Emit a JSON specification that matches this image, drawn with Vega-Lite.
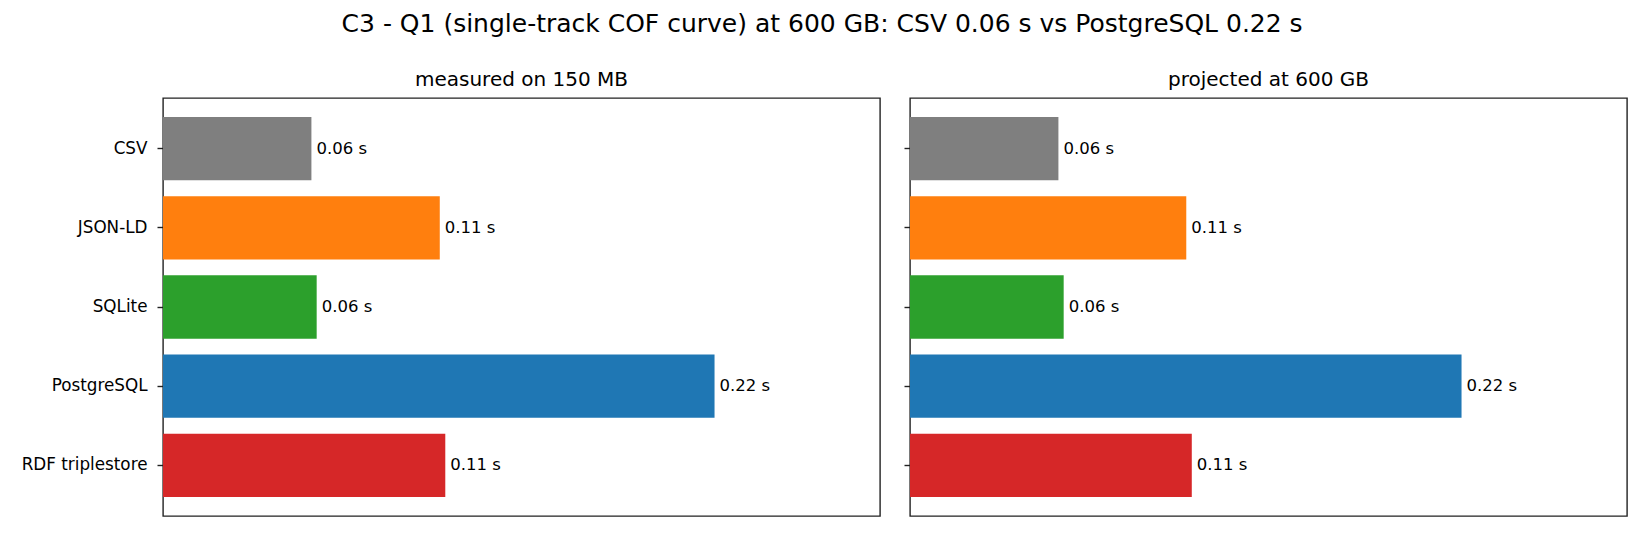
{
  "$schema": "https://vega.github.io/schema/vega-lite/v6.json",
  "padding": {"left": 20, "top": 12, "right": 20, "bottom": 20},
  "background": "white",
  "title": {
    "text": "C3 - Q1 (single-track COF curve) at 600 GB: CSV 0.06 s vs PostgreSQL 0.22 s",
    "fontSize": 25,
    "fontWeight": "normal",
    "anchor": "middle",
    "color": "black",
    "dx": -2,
    "offset": 32
  },
  "config": {
    "font": "DejaVu Sans",
    "view": {"stroke": "#222222", "strokeWidth": 1.4},
    "title": {"fontSize": 20, "fontWeight": "normal", "color": "black", "baseline": "alphabetic", "offset": 8},
    "axis": {"labelFont": "DejaVu Sans"}
  },
  "data": {
    "values": [
      {"format": "CSV", "measured": 0.0592, "projected": 0.0592, "label": "0.06 s"},
      {"format": "JSON-LD", "measured": 0.1104, "projected": 0.1102, "label": "0.11 s"},
      {"format": "SQLite", "measured": 0.0613, "projected": 0.0613, "label": "0.06 s"},
      {"format": "PostgreSQL", "measured": 0.22, "projected": 0.22, "label": "0.22 s"},
      {"format": "RDF triplestore", "measured": 0.1126, "projected": 0.1124, "label": "0.11 s"}
    ]
  },
  "bounds": "flush",
  "spacing": 30,
  "hconcat": [
    {
      "title": "measured on 150 MB",
      "width": 717,
      "height": 418,
      "encoding": {
        "y": {
          "field": "format", "type": "nominal", "sort": null,
          "scale": {"paddingInner": 0.2, "paddingOuter": 0.24},
          "axis": {"title": null, "domain": false, "ticks": true, "tickSize": 6, "tickWidth": 1.4, "tickColor": "#222222", "labelFontSize": 16.8, "labelColor": "black", "labelPadding": 10}
        },
        "x": {
          "field": "measured", "type": "quantitative",
          "scale": {"domain": [0, 0.286], "nice": false, "zero": true},
          "axis": null
        }
      },
      "layer": [
        {
          "mark": {"type": "bar"},
          "encoding": {
            "color": {
              "field": "format", "type": "nominal", "legend": null,
              "scale": {"domain": ["CSV", "JSON-LD", "SQLite", "PostgreSQL", "RDF triplestore"], "range": ["#7f7f7f", "#ff7f0e", "#2ca02c", "#1f77b4", "#d62728"]}
            }
          }
        },
        {
          "mark": {"type": "text", "align": "left", "baseline": "middle", "dx": 5, "fontSize": 16.5, "color": "black"},
          "encoding": {"text": {"field": "label"}}
        }
      ]
    },
    {
      "title": "projected at 600 GB",
      "width": 717,
      "height": 418,
      "encoding": {
        "y": {
          "field": "format", "type": "nominal", "sort": null,
          "scale": {"paddingInner": 0.2, "paddingOuter": 0.24},
          "axis": {"title": null, "domain": false, "ticks": true, "tickSize": 6, "tickWidth": 1.4, "tickColor": "#222222", "labels": false}
        },
        "x": {
          "field": "projected", "type": "quantitative",
          "scale": {"domain": [0, 0.286], "nice": false, "zero": true},
          "axis": null
        }
      },
      "layer": [
        {
          "mark": {"type": "bar"},
          "encoding": {
            "color": {
              "field": "format", "type": "nominal", "legend": null,
              "scale": {"domain": ["CSV", "JSON-LD", "SQLite", "PostgreSQL", "RDF triplestore"], "range": ["#7f7f7f", "#ff7f0e", "#2ca02c", "#1f77b4", "#d62728"]}
            }
          }
        },
        {
          "mark": {"type": "text", "align": "left", "baseline": "middle", "dx": 5, "fontSize": 16.5, "color": "black"},
          "encoding": {"text": {"field": "label"}}
        }
      ]
    }
  ]
}
